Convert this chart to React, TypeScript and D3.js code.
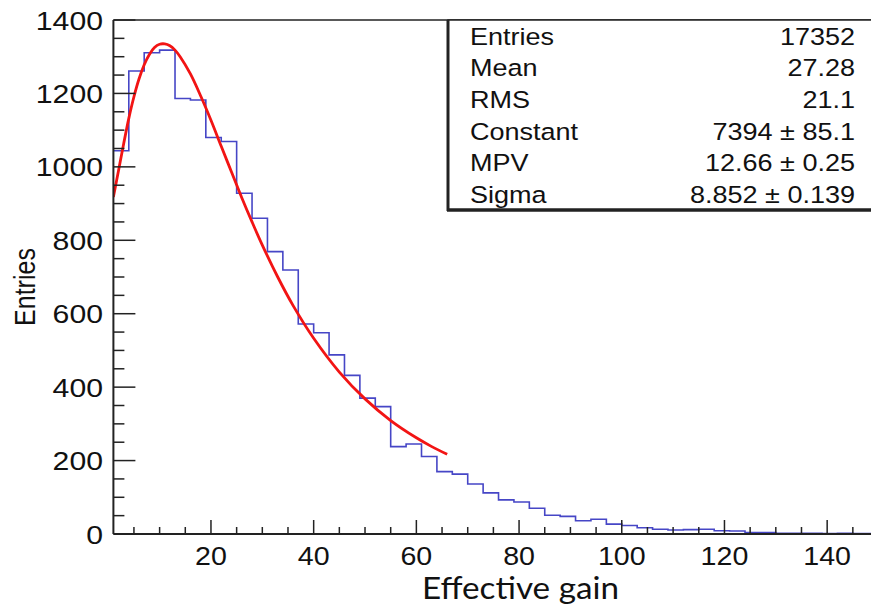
import React from 'react';
import * as d3 from 'd3';

// ---- data ----
const binWidth = 3;
const binStart = 1;
const binCounts = [
  1044, 1261, 1311, 1318, 1186, 1182, 1080, 1069, 928, 860,
  769, 719, 572, 548, 488, 432, 370, 347, 238, 245,
  211, 170, 163, 136, 112, 93, 87, 70, 51, 48,
  36, 40, 27, 23, 17, 13, 11, 12, 13, 9,
  8, 4, 4, 2, 2, 2, 1, 2, 1, 1,
];
const fitX = [1, 2, 3, 4, 5, 6, 7, 8, 9, 10, 11, 12, 13, 14, 16, 18, 20, 22, 24, 26, 28, 30, 33, 36, 40, 45, 50, 55, 60, 63, 66];
const fitY = [918, 990, 1063, 1132, 1191, 1240, 1278, 1306, 1325, 1334, 1335, 1330, 1318, 1300, 1253, 1193, 1127, 1056, 986, 916, 850, 787, 700, 622, 533, 441, 368, 309, 262, 238, 217];
const xMajorTicks = [20, 40, 60, 80, 100, 120, 140];
const yMajorTicks = [0, 200, 400, 600, 800, 1000, 1200, 1400];
const statLabels = ['Entries', 'Mean', 'RMS', 'Constant', 'MPV', 'Sigma'];
const statValues = ['17352', '27.28', '21.1', '7394 \u00b1 85.1', '12.66 \u00b1 0.25', '8.852 \u00b1 0.139'];
const xTitle = 'Effective gain';
const yTitle = 'Entries';

const W = 871;
const H = 607;
const FONT = '"Liberation Sans", Arial, Helvetica, sans-serif';

export default function App() {
  const xMin = binStart;
  const xMax = binStart + binWidth * binCounts.length;
  const x = d3.scaleLinear().domain([xMin, xMax]).range([113.4, 113.4 + (xMax - xMin) * 5.135]);
  const y = d3.scaleLinear().domain([0, 1400]).range([534, 20]);
  const left = x(xMin);
  const bottom = y(0);
  const top = y(1400);

  const histPts: [number, number][] = binCounts.map((c, i) => [binStart + i * binWidth, c]);
  histPts.push([xMax, binCounts[binCounts.length - 1]]);
  const histPath = d3
    .line<[number, number]>()
    .x((d) => x(d[0]))
    .y((d) => y(d[1]))
    .curve(d3.curveStepAfter)(histPts) as string;

  const fitPts: [number, number][] = fitX.map((v, i) => [v, fitY[i]]);
  const fitPath = d3
    .line<[number, number]>()
    .x((d) => x(d[0]))
    .y((d) => y(d[1]))
    .curve(d3.curveCatmullRom)(fitPts) as string;

  const xMinor = d3.range(5, xMax, 5).filter((v) => v % 20 !== 0);
  const yMinor = d3.range(50, 1400, 50).filter((v) => v % 200 !== 0);

  const sx = 1.1;
  const rowH = 31.7;

  return (
    <svg width={W} height={H} style={{ position: 'absolute', left: 0, top: 0, background: '#fff' }}>
      <defs>
        <clipPath id="plot">
          <rect x={left} y={top} width={W - left} height={bottom - top} />
        </clipPath>
      </defs>
      <rect x={0} y={0} width={W} height={H} fill="#fff" />

      {/* histogram and fit */}
      <g clipPath="url(#plot)">
        <path d={histPath} fill="none" stroke="#4646c6" strokeWidth={1.6} />
        <path d={fitPath} fill="none" stroke="#f21414" strokeWidth={2.8} />
      </g>

      {/* frame */}
      <line x1={left} x2={W} y1={top} y2={top} stroke="#222" strokeWidth={1.5} />
      <line x1={left} x2={left} y1={top} y2={bottom} stroke="#222" strokeWidth={2} />
      <line x1={left} x2={W} y1={bottom} y2={bottom} stroke="#222" strokeWidth={2} />

      {/* x ticks */}
      {xMajorTicks.map((t) => (
        <line key={'xM' + t} x1={x(t)} x2={x(t)} y1={bottom} y2={bottom - 14} stroke="#222" strokeWidth={1.5} />
      ))}
      {xMinor.map((t) => (
        <line key={'xm' + t} x1={x(t)} x2={x(t)} y1={bottom} y2={bottom - 7} stroke="#222" strokeWidth={1.5} />
      ))}
      {xMajorTicks.map((t) => (
        <g key={'xl' + t} transform={`translate(${x(t)},565) scale(${sx},1)`}>
          <text textAnchor="middle" fontFamily={FONT} fontSize={26} fill="#111">
            {t}
          </text>
        </g>
      ))}

      {/* y ticks */}
      {yMajorTicks.map((t) => (
        <line key={'yM' + t} x1={left} x2={left + 22} y1={y(t)} y2={y(t)} stroke="#222" strokeWidth={1.5} />
      ))}
      {yMinor.map((t) => (
        <line key={'ym' + t} x1={left} x2={left + 11} y1={y(t)} y2={y(t)} stroke="#222" strokeWidth={1.5} />
      ))}
      {yMajorTicks.map((t) => (
        <g key={'yl' + t} transform={`translate(103,${y(t) + 9.5}) scale(${sx + 0.04},1)`}>
          <text textAnchor="end" fontFamily={FONT} fontSize={26.5} fill="#111">
            {t}
          </text>
        </g>
      ))}

      {/* axis titles */}
      <g transform={`translate(35,287) rotate(-90) scale(1,${sx + 0.05})`}>
        <text textAnchor="middle" fontFamily={FONT} fontSize={25} fill="#111">
          {yTitle}
        </text>
      </g>
      <text x={422} y={599} fontFamily='Lato, "Open Sans", sans-serif' fontSize={31} fill="#111" textLength={197} lengthAdjust="spacingAndGlyphs">
        {xTitle}
      </text>

      {/* stats box */}
      <rect x={448} y={top} width={W - 448 + 10} height={210 - top} fill="#fff" stroke="#222" strokeWidth={1.5} />
      <line x1={448} x2={448} y1={top} y2={211} stroke="#222" strokeWidth={3} />
      <line x1={447} x2={W} y1={210} y2={210} stroke="#222" strokeWidth={3.5} />
      {statLabels.map((s, i) => (
        <g key={'sl' + s} transform={`translate(470,${44.5 + i * rowH}) scale(${sx + 0.05},1)`}>
          <text fontFamily={FONT} fontSize={23.5} fill="#111">
            {s}
          </text>
        </g>
      ))}
      {statValues.map((s, i) => (
        <g key={'sv' + i} transform={`translate(855,${44.5 + i * rowH}) scale(${sx + 0.05},1)`}>
          <text textAnchor="end" fontFamily={FONT} fontSize={23.5} fill="#111">
            {s}
          </text>
        </g>
      ))}
    </svg>
  );
}
